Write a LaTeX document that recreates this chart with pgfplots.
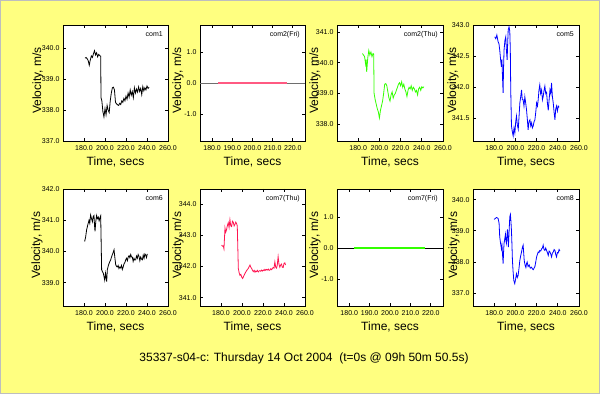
\documentclass[border=0pt]{standalone}
\usepackage{pgfplots}
\pgfplotsset{compat=1.18}
\usepackage{fontspec}
\setmainfont{Liberation Sans}
\definecolor{bgyellow}{RGB}{255,255,128}
\definecolor{bordergray}{RGB}{190,190,190}
\definecolor{cgreen}{RGB}{51,255,0}
\definecolor{cred}{RGB}{255,20,80}
\definecolor{cpink}{RGB}{255,90,130}
\definecolor{cblue}{RGB}{0,0,255}
\definecolor{cgray}{RGB}{110,110,110}
\pgfplotsset{
  panel/.style={
    scale only axis, width=105pt, height=116pt,
    anchor=south west,
    axis background/.style={fill=white},
    xmin=160, xmax=260, xtick={180,200,220,240,260},
    scaled ticks=false,
    tick align=inside, major tick length=3pt,
    axis line style={line width=0.8pt},
    every tick/.style={black, line width=0.8pt},
    ticklabel style={font=\fontsize{7}{8}\selectfont},
    xticklabel style={yshift=-1pt},
    /pgf/number format/assume math mode=true,
    /pgf/number format/fixed,
    /pgf/number format/fixed zerofill,
    /pgf/number format/precision=1,
    xlabel={Time, secs},
    every axis x label/.style={at={([yshift=-21pt]rel axis cs:0.5,0)}, anchor=center, font=\fontsize{12}{14}\selectfont},
    ylabel={Velocity, m/s},
    clip=true,
  },
  ylab/.style={every axis y label/.style={at={([xshift=-#1]rel axis cs:0,0.52)}, rotate=90, anchor=center, font=\fontsize{12}{14}\selectfont}},
}
\newcommand{\pname}[1]{\node[anchor=north east, font=\fontsize{7}{8}\selectfont, inner sep=0pt] at ([xshift=-5pt,yshift=-6pt]rel axis cs:1,1) {#1};}
\begin{document}
\begin{tikzpicture}[x=1pt,y=1pt]
\fill[bgyellow] (0,0) rectangle (600,394);
\draw[bordergray, line width=1pt] (0.5,0.5) rectangle (599.5,393.5);

% ---- Row 1 ----
\begin{axis}[panel, ylab=25pt, at={(63pt,253pt)}, ymin=337, ymax=340.75, ytick={337,338,339,340}]
\addplot[black, line width=0.8pt] table {
181 339.68
182 339.70
183 339.66
184 339.60
185 339.45
186 339.62
187 339.75
188 339.70
189 339.82
190 339.92
191 339.78
192 339.85
193 339.72
194 339.80
195 339.76
195.9 339.74
196.2 338.40
197 338.30
198 337.95
199 337.78
200 338.05
201 337.85
202 338.15
203 338.00
204 337.92
205 338.30
206 338.55
207 338.72
208 338.74
209 338.65
210 338.25
211 338.20
212 338.17
213 338.15
214 338.22
215 338.18
216 338.30
217 338.25
218 338.38
219 338.30
220 338.45
221 338.35
222 338.55
223 338.42
224 338.65
225 338.48
226 338.60
227 338.40
228 338.72
229 338.55
230 338.68
231 338.58
232 338.75
233 338.60
234 338.70
235 338.50
236 338.76
237 338.62
238 338.72
239 338.65
240 338.78
241 338.70
242 338.74
};
\pname{com1}
\end{axis}

\begin{axis}[panel, ylab=22pt, at={(200pt,253pt)}, xmin=174, xmax=226, xtick={180,190,200,210,220}, ymin=-1.87, ymax=1.87, ytick={-1,0,1}]
\addplot[cgray, line width=0.6pt] coordinates {(174,0) (226,0)};
\addplot[cpink, line width=1.3pt] coordinates {(183,0) (217,0)};
\pname{com2(Fri)}
\end{axis}

\begin{axis}[panel, ylab=22pt, at={(337pt,253pt)}, width=106pt, ymin=337.45, ymax=341.23, ytick={338,339,340,341}]
\addplot[cgreen, line width=0.8pt] table {
184 340.30
185 340.25
186 340.20
187 339.95
187.5 340.10
188 339.70
189 340.15
190 340.40
191 340.25
192 340.35
193 340.20
194 340.30
194.6 340.28
195 339.00
196 338.80
197 338.65
198 338.50
199 338.40
200 338.20
201 338.45
202 338.60
203 338.75
204 339.00
205 339.30
206 339.32
207 339.25
208 339.05
209 338.85
210 338.75
211 338.95
212 339.05
213 338.85
214 338.95
215 339.00
216 339.10
217 339.20
218 339.30
219 339.35
220 339.25
221 339.38
222 339.20
223 339.30
224 339.15
225 339.05
226 338.90
227 339.10
228 339.20
229 339.15
230 339.25
231 339.10
232 339.20
233 339.15
234 339.05
235 339.10
236 338.95
237 339.15
238 339.20
239 339.10
240 339.22
241 339.18
242 339.22
};
\pname{com2(Thu)}
\end{axis}

\begin{axis}[panel, ylab=20pt, at={(473pt,253pt)}, width=106pt, ymin=341.14, ymax=343, ytick={341.5,342,342.5,343}]
\addplot[cblue, line width=0.8pt] coordinates {
(180.5,342.81)(181.5,342.78)(182.5,342.84)(183.7,342.73)(184.5,342.70)(185.2,342.60)(186,342.45)(186.8,342.33)(187.3,342.45)(187.8,342.18)(188.4,341.91)(188.8,342.30)(189.3,342.60)(190.1,342.75)(190.9,342.81)(191.5,342.60)(192.2,342.44)(192.7,342.70)(193.2,342.92)(194,342.97)(194.7,342.90)(195.2,342.60)(195.6,341.96)(196.3,341.38)(197,341.30)(197.9,341.22)(198.7,341.35)(199.5,341.27)(200.3,341.45)(201,341.54)(201.8,341.40)(202.7,341.33)(203.5,341.55)(204.2,341.75)(205,341.85)(205.8,341.96)(206.5,341.80)(207.3,341.80)(208.1,341.70)(208.9,341.85)(209.7,341.75)(210.5,341.64)(211.2,341.50)(212,341.32)(212.8,341.45)(213.7,341.48)(214.5,341.38)(215.3,341.43)(216,341.35)(216.8,341.38)(217.6,341.45)(218.4,341.48)(219.2,341.60)(220,341.75)(220.8,341.70)(221.5,341.80)(222.2,341.95)(223,342.04)(223.8,341.90)(224.7,341.96)(225.5,341.80)(226.2,341.85)(227,341.95)(227.8,342.02)(228.6,341.90)(229.4,341.92)(230.2,341.75)(231,341.63)(231.8,341.80)(232.6,341.96)(233.4,341.90)(234.1,342.07)(234.9,341.85)(235.7,341.75)(236.5,341.60)(237.3,341.48)(238,341.65)(238.8,341.70)(239.6,341.62)(240.4,341.70)(241.2,341.68)
};
\pname{com5}
\end{axis}

% ---- Row 2 ----
\begin{axis}[panel, ylab=26pt, at={(63pt,88pt)}, height=117pt, ymin=338.25, ymax=342, ytick={339,340,341,342}]
\addplot[black, line width=0.8pt] coordinates {
(180.6,340.32)(181.5,340.45)(182.5,340.69)(183.6,340.85)(184.8,341.00)(185.5,340.90)(186.3,341.17)(187.2,341.05)(188,340.95)(188.8,341.12)(189.5,341.15)(190,340.85)(190.5,340.64)(191.2,340.95)(192,341.15)(192.8,341.05)(193.6,341.10)(194.4,340.98)(195.2,341.08)(195.9,341.14)(196.8,339.41)(197.6,339.35)(198.4,339.30)(199,339.20)(199.7,339.08)(200.5,339.30)(201.1,339.15)(201.6,339.03)(202.2,339.41)(203.2,339.55)(204.3,339.65)(205.4,339.73)(206.5,339.85)(207.6,339.95)(208.6,340.05)(209.4,339.80)(210.2,339.57)(211,339.52)(211.7,339.50)(212.5,339.55)(213.3,339.45)(214.1,339.50)(214.9,339.47)(215.7,339.55)(216.5,339.42)(217.3,339.50)(218.1,339.60)(219,339.65)(219.7,339.73)(220.5,339.78)(221.3,339.70)(222.1,339.82)(222.9,339.86)(223.7,339.80)(224.5,339.90)(225.3,339.82)(226,339.82)(226.8,339.68)(227.6,339.78)(228.4,339.72)(229.2,339.73)(230,339.85)(230.8,339.78)(231.6,339.90)(232.4,339.84)(233.2,339.70)(234,339.82)(234.8,339.75)(235.6,339.73)(236.4,339.88)(237.2,339.78)(238,339.92)(238.7,339.89)(239.5,339.80)(240.3,339.92)
};
\pname{com6}
\end{axis}

\begin{axis}[panel, ylab=22pt, at={(200pt,88pt)}, height=117pt, ymin=340.74, ymax=344.48, ytick={341,342,343,344}]
\addplot[cred, line width=0.8pt] coordinates {
(180.6,342.69)(181.4,342.65)(182.2,342.66)(182.8,342.57)(183.3,342.90)(183.8,343.23)(184.5,343.10)(185.3,343.18)(186,343.30)(186.9,343.40)(187.7,343.25)(188.5,343.50)(189.3,343.30)(190.1,343.28)(190.9,343.45)(191.7,343.42)(192.5,343.30)(193.3,343.35)(194.1,343.42)(194.9,343.37)(195.5,343.30)(196.5,341.94)(197.3,341.80)(198.1,341.72)(198.9,341.75)(199.8,341.66)(200.6,341.62)(201.7,341.70)(202.8,341.78)(204,341.85)(205,341.90)(206,341.94)(206.8,342.00)(207.6,342.05)(208.4,341.98)(209.2,341.94)(210,341.88)(210.8,341.84)(211.6,341.88)(212.4,341.82)(213.2,341.86)(213.9,341.84)(214.7,341.88)(215.5,341.83)(216.3,341.86)(217.1,341.87)(217.9,341.85)(218.7,341.89)(219.5,341.86)(220.3,341.89)(221.1,341.87)(221.8,341.91)(222.6,341.88)(223.4,341.91)(224.2,341.89)(225,341.92)(225.8,341.88)(226.6,341.89)(227.4,341.93)(228.2,341.90)(229,341.94)(229.7,341.97)(230.5,341.95)(231.3,342.15)(232.1,341.98)(232.9,341.95)(233.6,342.05)(234.4,342.32)(235.2,342.08)(236,341.98)(236.8,342.05)(237.6,342.08)(238.4,341.98)(239.2,341.97)(240,342.10)(240.8,342.12)(241.5,342.05)
};
\pname{com7(Thu)}
\end{axis}

\begin{axis}[panel, ylab=22pt, at={(337pt,88pt)}, width=106pt, height=117pt, xmin=174, xmax=226, xtick={180,190,200,210,220}, ymin=-1.87, ymax=1.9, ytick={-1,0,1}]
\addplot[black, line width=0.6pt] coordinates {(174,0) (226,0)};
\addplot[cgreen, line width=1.3pt] coordinates {(182.5,0) (217,0)};
\pname{com7(Fri)}
\end{axis}

\begin{axis}[panel, ylab=19pt, at={(473pt,88pt)}, width=106pt, height=117pt, ymin=336.58, ymax=340.35, ytick={337,338,339,340}]
\addplot[cblue, line width=0.8pt] coordinates {
(179.9,339.37)(181,339.40)(182.1,339.43)(182.9,339.42)(183.7,339.40)(184.6,339.25)(185.2,338.81)(186,338.60)(186.8,338.43)(187.3,338.55)(187.8,338.27)(188.4,337.95)(188.9,338.35)(189.3,338.60)(190,338.75)(190.6,338.89)(191,338.70)(191.5,338.60)(192,338.80)(192.5,339.05)(193,338.75)(193.4,338.48)(194,338.95)(194.7,339.45)(195.3,339.53)(195.8,339.30)(196.3,339.00)(196.8,338.50)(197.2,338.05)(197.8,337.70)(198.5,337.40)(199.4,337.30)(200.2,337.45)(201,337.62)(201.8,337.50)(202.6,337.57)(203.4,337.80)(204.2,338.05)(205,338.20)(205.8,338.32)(206.5,338.45)(207.3,338.54)(207.8,338.30)(208.3,338.05)(209.1,337.90)(209.9,337.82)(210.5,337.95)(211.1,338.00)(212,337.85)(213,337.90)(214,337.80)(215.2,337.83)(216,337.78)(216.8,337.75)(217.6,337.80)(218.4,337.85)(219.2,338.00)(220,338.16)(220.8,338.25)(221.5,338.32)(222.2,338.30)(223,338.37)(223.9,338.35)(224.7,338.42)(225.5,338.45)(226.2,338.54)(227,338.40)(227.8,338.37)(228.6,338.45)(229.4,338.37)(230.2,338.30)(231,338.21)(231.8,338.35)(232.6,338.32)(233.4,338.25)(234.1,338.16)(234.9,338.28)(235.7,338.32)(236.5,338.40)(237.3,338.37)(238,338.25)(238.8,338.16)(239.6,338.30)(240.4,338.29)(241.2,338.40)(242,338.35)
};
\pname{com8}
\end{axis}

\node[font=\fontsize{12}{14}\selectfont, anchor=center] at (304,36) {35337-s04-c: Thursday 14 Oct 2004\ \ (t=0s @ 09h 50m 50.5s)};
\end{tikzpicture}
\end{document}
